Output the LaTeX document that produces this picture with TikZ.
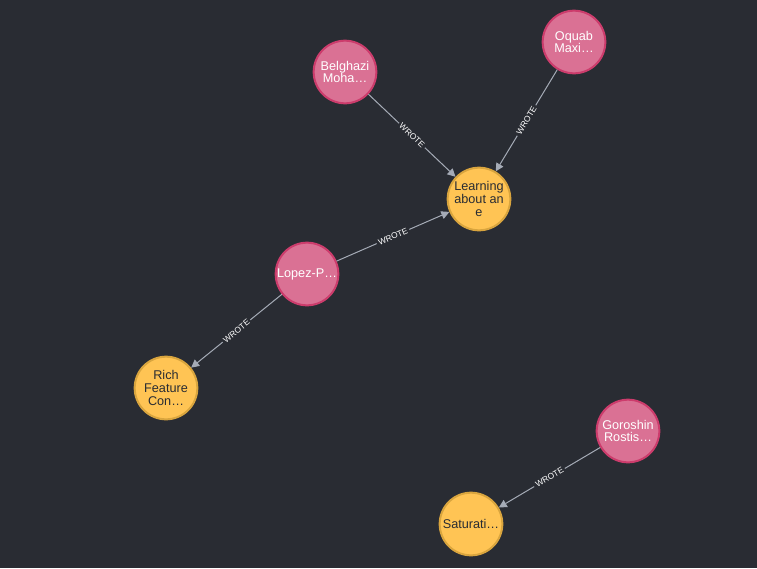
\documentclass[tikz,border=0pt]{standalone}
\usepackage{fontspec}
\setmainfont{Liberation Sans}
\usetikzlibrary{arrows.meta}
\definecolor{bgdark}{RGB}{41,44,51}
\definecolor{authfill}{RGB}{218,113,148}
\definecolor{authline}{RGB}{204,60,108}
\definecolor{paperfill}{RGB}{255,196,84}
\definecolor{paperline}{RGB}{217,165,62}
\definecolor{relline}{RGB}{165,171,182}
\tikzset{
  author/.style={circle,draw=authline,fill=authfill,line width=1.5pt,minimum size=47pt,inner sep=0pt,align=center,text=white,font=\fontsize{9.5}{9.5}\selectfont},
  paper/.style={circle,draw=paperline,fill=paperfill,line width=1.5pt,minimum size=47pt,inner sep=0pt,align=center,text=bgdark,font=\fontsize{9.5}{9.5}\selectfont},
  wrote/.style={draw=relline,line width=0.75pt,-{Triangle[length=6pt,width=6pt]}},
  rellabel/.style={midway,sloped,fill=bgdark,inner sep=1.5pt,text=white,font=\fontsize{6.3}{6.5}\selectfont}
}
\begin{document}
\begin{tikzpicture}[x=0.75pt,y=0.75pt]
%background
\fill [bgdark] (0,0) rectangle (757,-568);
\useasboundingbox (0,0) rectangle (757,-568);

%Author nodes
\node [author] (belghazi) at (345,-72) {Belghazi\\Moha\ldots};
\node [author] (oquab) at (574,-42) {Oquab\\Maxi\ldots};
\node [author] (lopez) at (307,-274) {Lopez-P\ldots};
\node [author] (goroshin) at (628,-431) {Goroshin\\Rostis\ldots};

%Paper nodes
\node [paper] (learning) at (479,-199) {Learning\\about an\\e};
\node [paper] (rich) at (166,-388) {Rich\\Feature\\Con\ldots};
\node [paper] (saturati) at (471,-524) {Saturati\ldots};

%Relationships
\draw [wrote] (belghazi) -- (learning) node [rellabel] {WROTE};
\draw [wrote] (oquab) -- (learning) node [rellabel] {WROTE};
\draw [wrote] (lopez) -- (learning) node [rellabel] {WROTE};
\draw [wrote] (lopez) -- (rich) node [rellabel] {WROTE};
\draw [wrote] (goroshin) -- (saturati) node [rellabel] {WROTE};

\end{tikzpicture}
\end{document}
